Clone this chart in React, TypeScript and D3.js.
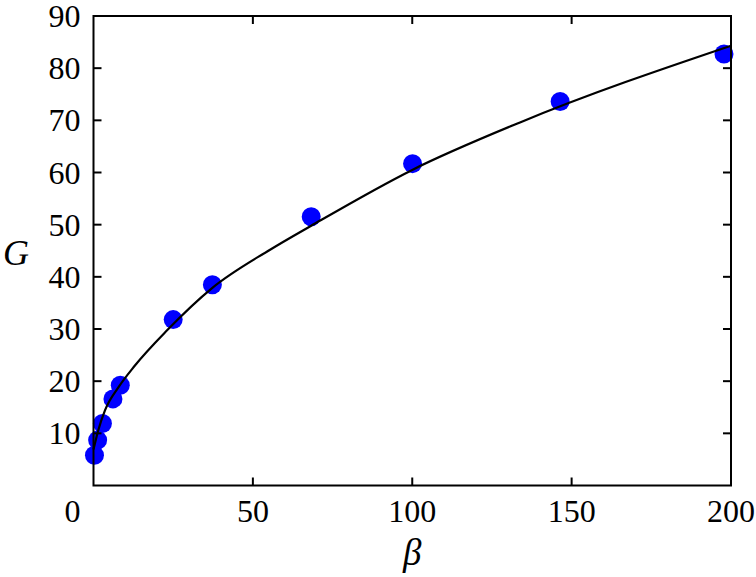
import { useRef, useEffect } from 'react';
import * as d3 from 'd3';

// measured points (beta, G)
const betaPts = [0.3, 1.3, 2.8, 6.1, 8.4, 25.0, 37.3, 68.3, 100.1, 146.4, 197.8];
const gPts = [5.8, 8.7, 11.9, 16.6, 19.2, 31.8, 38.5, 51.5, 61.7, 73.6, 82.7];

// fitted curve
const fitBeta = [0, 1.5, 3.6, 7.8, 13.0, 23.0, 37.3, 55.4, 68.3, 100, 133.8, 200];
const fitG = [6.9, 10.6, 14.4, 18.8, 23.0, 29.7, 37.9, 45.2, 49.8, 60.5, 69.6, 84.3];

const xTicks = [0, 50, 100, 150, 200];
const yTicks = [10, 20, 30, 40, 50, 60, 70, 80, 90];

export default function App() {
  const svgRef = useRef<SVGSVGElement>(null);

  useEffect(() => {
    if (!svgRef.current) return;
    const svg = d3.select(svgRef.current);
    svg.selectAll('*').remove();

    const width = 756;
    const height = 577;
    const margin = { top: 16, right: 25, bottom: 91.5, left: 93.5 };
    const innerWidth = width - margin.left - margin.right;
    const innerHeight = height - margin.top - margin.bottom;
    const font = '"Liberation Serif", "Times New Roman", serif';

    const x = d3.scaleLinear().domain([0, 200]).range([0, innerWidth]);
    const y = d3.scaleLinear().domain([0, 90]).range([innerHeight, 0]);

    const g = svg.append('g').attr('transform', `translate(${margin.left},${margin.top})`);

    // markers (drawn under the fit line)
    g.append('g')
      .selectAll('circle')
      .data(betaPts.map((b, i) => ({ b, v: gPts[i] })))
      .join('circle')
      .attr('cx', (d) => x(d.b))
      .attr('cy', (d) => y(d.v))
      .attr('r', 9.5)
      .attr('fill', '#0000ff');

    const line = d3.line<[number, number]>()
      .x((d) => x(d[0]))
      .y((d) => y(d[1]))
      .curve(d3.curveMonotoneX);

    g.append('path')
      .datum(fitBeta.map((b, i) => [b, fitG[i]] as [number, number]))
      .attr('fill', 'none')
      .attr('stroke', '#000')
      .attr('stroke-width', 2.2)
      .attr('d', line);

    // frame
    g.append('rect')
      .attr('width', innerWidth)
      .attr('height', innerHeight)
      .attr('fill', 'none')
      .attr('stroke', '#000')
      .attr('stroke-width', 2);

    const tl = 8;
    // inward ticks, all four sides
    xTicks.slice(1, -1).forEach((t) => {
      g.append('line').attr('x1', x(t)).attr('x2', x(t)).attr('y1', innerHeight).attr('y2', innerHeight - tl)
        .attr('stroke', '#000').attr('stroke-width', 2);
      g.append('line').attr('x1', x(t)).attr('x2', x(t)).attr('y1', 0).attr('y2', tl)
        .attr('stroke', '#000').attr('stroke-width', 2);
    });
    yTicks.slice(0, -1).forEach((t) => {
      g.append('line').attr('x1', 0).attr('x2', tl).attr('y1', y(t)).attr('y2', y(t))
        .attr('stroke', '#000').attr('stroke-width', 2);
      g.append('line').attr('x1', innerWidth).attr('x2', innerWidth - tl).attr('y1', y(t)).attr('y2', y(t))
        .attr('stroke', '#000').attr('stroke-width', 2);
    });

    // tick labels
    g.append('g')
      .selectAll('text')
      .data(xTicks)
      .join('text')
      .attr('x', (d) => x(d) + (d === 0 ? -21 : 0))
      .attr('y', innerHeight + 36.5)
      .attr('text-anchor', 'middle')
      .attr('font-family', font)
      .attr('font-size', 32)
      .text((d) => d);

    g.append('g')
      .selectAll('text')
      .data(yTicks)
      .join('text')
      .attr('x', -13)
      .attr('y', (d) => y(d) + 11)
      .attr('text-anchor', 'end')
      .attr('font-family', font)
      .attr('font-size', 32)
      .text((d) => d);

    // axis titles
    svg.append('text')
      .attr('x', margin.left + innerWidth / 2)
      .attr('y', 565)
      .attr('text-anchor', 'middle')
      .attr('font-family', font)
      .attr('font-style', 'italic')
      .attr('font-size', 37)
      .text('β');

    svg.append('text')
      .attr('x', 16)
      .attr('y', 265)
      .attr('text-anchor', 'middle')
      .attr('font-family', font)
      .attr('font-style', 'italic')
      .attr('font-size', 36)
      .text('G');
  }, []);

  return (
    <svg
      ref={svgRef}
      width={756}
      height={577}
      style={{ position: 'absolute', left: 0, top: 0, background: '#fff' }}
    />
  );
}
